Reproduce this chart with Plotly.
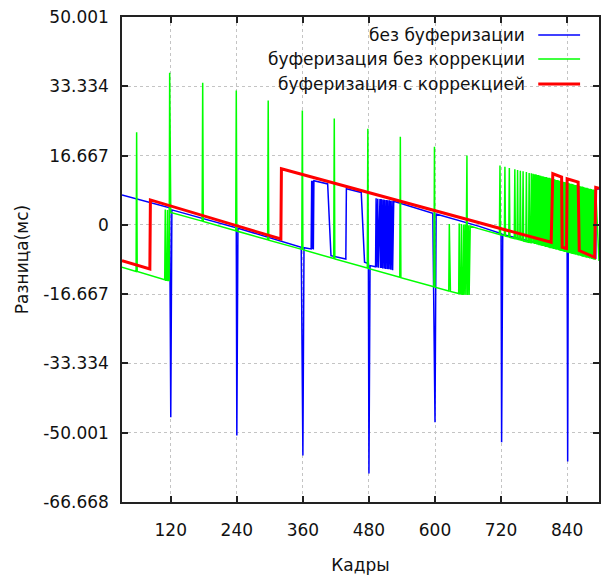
import plotly.graph_objects as go

# ---- data ----
blue_frames = [31.4, 118, 120, 122, 239, 240, 242, 357, 360, 362, 375, 376, 377, 378, 379, 380,
               405, 411, 438, 439, 466, 472, 479, 480, 482, 492, 493, 494, 496, 497, 500, 501,
               502, 503, 504, 505, 507, 508, 509, 510, 512, 513, 514, 515, 517, 518, 519, 520,
               522, 523, 525, 596, 600, 602, 679, 720, 721, 723, 840, 841, 842, 877, 878, 879,
               892, 893, 897.9]
blue_values = [7.2, 4.1, -46.3, 3.6, -0.7, -50.7, -0.8, -5.4, -55.5, -5.5, -5.8, 10.6, -5.8, 10.6, -5.9, 10.6,
               9.85, -7.4, -8.2, 8.7, 7.8, -9.0, -9.3, -59.8, -9.8, -10.1, 6.4, -10.2, 6.3, -10.3, 6.2, -10.4,
               6.2, -10.4, 6.1, -10.5, 6.1, -10.5, 6.0, -10.6, 6.0, -10.6, 5.9, -10.7, 5.9, -10.7, 5.8, -10.8,
               5.8, -10.9, 5.7, 2.8, -47.5, 2.6, -0.3, -2.1, -52.3, -2.3, -6.2, -56.9, -6.3, -7.5, 8.6, -7.5,
               -8.0, 8.8, 8.6]

# green: sparse part (vertices), up to frame 776
green_frames = [31.4, 57, 58, 59, 109, 110, 111, 113, 114, 115, 117, 118, 120,
                177, 178, 179, 238, 239, 240, 296, 297, 298, 358, 359, 360, 416, 417, 418,
                477, 478, 479, 536, 537, 538, 598, 599, 600, 625, 626, 628,
                643, 644, 645, 647, 648, 649, 651, 652, 653, 655, 656, 658, 659, 661, 662, 664,
                679, 717, 718, 719, 726, 727, 728, 734, 735, 736, 744, 745, 746, 749, 750, 751,
                754, 755, 756, 759, 760, 761, 765, 766, 767, 770, 771, 772, 774, 775, 776]
green_values = [-10.2, -11.2, 22.3, -11.2, -13.2, 3.7, -13.3, -13.3, 3.6, -13.4, -13.4, 36.6, 3.0,
                0.9, 34.2, 0.8, -1.4, 32.3, -1.5, -3.6, 29.9, -3.7, -5.9, 27.5, -6.0, -8.1, 25.6, -8.2,
                -10.4, 23.1, -10.5, -12.6, 21.2, -12.7, -14.9, 18.8, -15.0, -15.9, 0.2, -16.0,
                -16.5, 0.3, -16.6, -16.6, 0.2, -16.7, -16.7, 0.1, -16.8, 0.0, -16.8, 16.7, -16.9, -0.1, -16.9, -0.3,
                -0.9, -2.3, 14.3, -2.4, -2.6, 14.0, -2.7, -2.9, 13.7, -3.0, -3.3, 13.4, -3.3, -3.4, 13.2, -3.5,
                -3.6, 13.0, -3.7, -3.8, 12.9, -3.9, -4.0, 12.7, -4.1, -4.2, 12.5, -4.2, -4.3, 12.4, -4.4]
# green: dense oscillation, frames 778..892 (highs on even frames, lows on odd frames)
green_dense_first_frame = 778
green_dense_highs = [12.3, 12.2, 12.2, 12.1, 12.0, 12.0, 11.9, 11.8, 11.7, 11.7, 11.6, 11.5, 11.5, 11.4,
                     11.3, 11.3, 11.2, 11.1, 11.0, 11.0, 10.9, 10.8, 10.8, 10.7, 10.6, 10.6, 10.5, 10.4,
                     10.3, 10.3, 10.2, 10.1, 10.1, 10.0, 9.9, 9.9, 9.8, 9.7, 9.6, 9.6, 9.5, 9.4, 9.4, 9.3,
                     9.2, 9.2, 9.1, 9.0, 8.9, 8.9, 8.8, 8.7, 8.7, 8.6, 8.5, 8.5, 8.4, 8.3]
green_dense_lows = [-4.5, -4.6, -4.6, -4.7, -4.8, -4.9, -4.9, -5.0, -5.1, -5.1, -5.2, -5.3, -5.3, -5.4,
                    -5.5, -5.6, -5.6, -5.7, -5.8, -5.8, -5.9, -6.0, -6.0, -6.1, -6.2, -6.3, -6.3, -6.4,
                    -6.5, -6.5, -6.6, -6.7, -6.7, -6.8, -6.9, -7.0, -7.0, -7.1, -7.2, -7.2, -7.3, -7.4,
                    -7.4, -7.5, -7.6, -7.7, -7.7, -7.8, -7.9, -7.9, -8.0, -8.1, -8.1, -8.2, -8.3, -8.4, -8.4]
green_last_frame, green_last_value = 897.9, -8.7

red_frames = [31.4, 82, 83, 320, 321, 811, 814, 830, 831, 839, 840, 860, 862, 890, 892, 897.9]
red_values = [-8.6, -10.6, 6.0, -3.4, 13.5, -4.2, 12.3, 11.5, -5.4, -5.7, 11.1, 10.3, -6.2, -7.8, 9.0, 8.8]

series_names = ["без буферизации", "буферизация без коррекции", "буферизация с коррекцией"]
series_colors = ["#0000ff", "#00ff00", "#ff0000"]
series_widths = [1.5, 1.5, 3]

x_ticks = [120, 240, 360, 480, 600, 720, 840]
y_ticks = [50.001, 33.334, 16.667, 0, -16.667, -33.334, -50.001, -66.668]
y_tick_labels = ["50.001", "33.334", "16.667", "0", "-16.667", "-33.334", "-50.001", "-66.668"]
x_range = [31.4, 897.9]
y_range = [-66.668, 50.001]

# ---- assemble the green series: sparse vertices, then the dense run ----
dense_vals = []
for i, hi in enumerate(green_dense_highs):
    dense_vals.append(hi)
    if i < len(green_dense_lows):
        dense_vals.append(green_dense_lows[i])
dense_frames = [green_dense_first_frame + i for i in range(len(dense_vals))]
green_all_frames = green_frames + dense_frames + [green_last_frame]
green_all_values = green_values + dense_vals + [green_last_value]

# ---- figure ----
W, H = 601, 575
ML, MR, MT, MB = 122, 0, 17, 73
PW, PH = W - ML - MR, H - MT - MB

def px_x(px):
    return (px - ML) / PW

def px_y(py):
    return (H - MB - py) / PH

FONT = "DejaVu Sans"
fig = go.Figure()
for fr, vals, name, col, w in zip([blue_frames, green_all_frames, red_frames],
                                  [blue_values, green_all_values, red_values],
                                  series_names, series_colors, series_widths):
    fig.add_trace(go.Scatter(x=fr, y=vals, mode="lines", name=name,
                             line=dict(color=col, width=w), showlegend=False))

axis_common = dict(showline=True, linecolor="#222222", linewidth=1.5, mirror="ticks",
                   ticks="inside", ticklen=6, tickwidth=1.5, tickcolor="#222222",
                   showgrid=True, gridcolor="#c4c4c4", griddash="dot", gridwidth=1,
                   zeroline=False, tickfont=dict(family=FONT, size=17, color="#111111"))

fig.update_xaxes(range=x_range, tickvals=x_ticks, ticklabelstandoff=12,
                 title=dict(text="Кадры", font=dict(family=FONT, size=17, color="#111111"), standoff=20),
                 **axis_common)
fig.update_yaxes(range=y_range, tickvals=y_ticks, ticktext=y_tick_labels, ticklabelstandoff=8,
                 title=dict(text="Разница(мс)", font=dict(family=FONT, size=17, color="#111111"), standoff=10),
                 **axis_common)

# gnuplot-style key: opaque box, right-aligned text, sample line on the right
shapes = [dict(type="rect", xref="paper", yref="paper", x0=px_x(275), x1=1.0, y0=px_y(97), y1=1.0,
               fillcolor="white", line=dict(width=0), layer="between")]
annotations = []
key_rows = [35, 59, 84]
for name, col, w, py in zip(series_names, series_colors, series_widths, key_rows):
    shapes.append(dict(type="line", xref="paper", yref="paper", x0=px_x(540), x1=px_x(582),
                       y0=px_y(py), y1=px_y(py), line=dict(color=col, width=w), layer="above"))
    annotations.append(dict(text=name, xref="paper", yref="paper", x=px_x(529), y=px_y(py),
                            xanchor="right", yanchor="middle", showarrow=False,
                            font=dict(family=FONT, size=17, color="#111111")))

fig.update_layout(width=W, height=H, margin=dict(l=ML, r=MR, t=MT, b=MB),
                  plot_bgcolor="white", paper_bgcolor="white",
                  shapes=shapes, annotations=annotations, showlegend=False)

fig.write_html("out.html", config={"displayModeBar": False},
               post_script="document.body.style.margin='0';document.body.style.overflow='hidden';")
